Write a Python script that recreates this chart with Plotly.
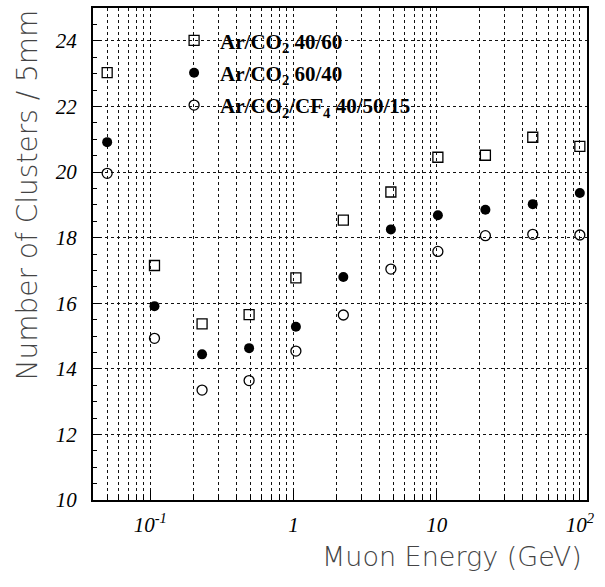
import plotly.graph_objects as go

# ---- data ----
energy = [0.05, 0.107, 0.23, 0.49, 1.04, 2.23, 4.79, 10.2, 21.9, 46.9, 100]
arco2_4060 = [23.03, 17.15, 15.37, 15.65, 16.77, 18.53, 19.39, 20.45, 20.51, 21.06, 20.78]
arco2_6040 = [20.91, 15.91, 14.44, 14.63, 15.28, 16.80, 18.25, 18.68, 18.85, 19.02, 19.36]
arco2cf4 = [19.96, 14.93, 13.35, 13.64, 14.54, 15.64, 17.04, 17.58, 18.06, 18.10, 18.08]
names = ["Ar/CO<sub>2</sub> 40/60", "Ar/CO<sub>2</sub> 60/40", "Ar/CO<sub>2</sub>/CF<sub>4</sub> 40/50/15"]
x_tickvals = [0.1, 1, 10, 100]
x_ticktext = ["10<sup>-1</sup>", "1", "10", "10<sup>2</sup>"]
y_tickvals = [10, 12, 14, 16, 18, 20, 22, 24]

fig = go.Figure()
fig.add_trace(go.Scatter(x=energy, y=arco2_4060, mode="markers", name=names[0], legendgroup="a",
                         marker=dict(symbol="square-open", size=10, color="black", line=dict(width=1.3))))
fig.add_trace(go.Scatter(x=energy, y=arco2_6040, mode="markers", name=names[1], legendgroup="b",
                         marker=dict(symbol="circle", size=10, color="black")))
fig.add_trace(go.Scatter(x=energy, y=arco2cf4, mode="markers", name=names[2], legendgroup="c",
                         marker=dict(symbol="circle-open", size=10, color="black", line=dict(width=1.3))))

tickfont = dict(family="Liberation Serif", size=21, color="black", style="italic")
xtitlefont = dict(family="DejaVu Sans", size=27, color="#444444", weight=200)
ytitlefont = dict(family="DejaVu Sans", size=28, color="#444444", weight=200)
grid = dict(showgrid=True, gridcolor="#111111", griddash="dot", gridwidth=1)

fig.update_layout(
    width=605, height=587,
    margin=dict(l=93, r=18, t=6, b=87),
    plot_bgcolor="white", paper_bgcolor="white",
    showlegend=True,
    legend=dict(x=0.152, y=0.975, xanchor="left", yanchor="top", bgcolor="rgba(0,0,0,0)",
                font=dict(family="Liberation Serif", size=21, color="black", weight="bold"),
                tracegroupgap=2, itemwidth=42),
    xaxis=dict(type="log", range=[-1.4, 2.05], tickvals=x_tickvals, ticktext=x_ticktext,
               ticks="inside", ticklen=10, tickwidth=1, tickcolor="black",
               showline=True, linecolor="black", linewidth=2, mirror=True,
               zeroline=False, tickfont=tickfont, ticklabelstandoff=5, **grid,
               minor=dict(dtick="D1", ticks="inside", ticklen=5, tickcolor="black", **grid)),
    yaxis=dict(range=[10, 25], tickvals=y_tickvals,
               ticks="inside", ticklen=8, tickwidth=1, tickcolor="black",
               showline=True, linecolor="black", linewidth=2, mirror=True,
               zeroline=False, tickfont=tickfont, ticklabelstandoff=10, **grid,
               minor=dict(dtick=0.5, ticks="inside", ticklen=4, tickcolor="black", showgrid=False)),
    annotations=[
        dict(text="Number of Clusters / 5mm", xref="paper", yref="paper", x=-0.1316, y=1.002,
             xanchor="center", yanchor="top", textangle=-90, showarrow=False, font=ytitlefont),
        dict(text="Muon Energy (GeV)", xref="paper", yref="paper", x=0.994, y=-0.1154,
             xanchor="right", yanchor="middle", showarrow=False, font=xtitlefont),
    ],
)

fig.write_html("out.html", config={"displayModeBar": False},
               post_script="document.body.style.margin='0';")
